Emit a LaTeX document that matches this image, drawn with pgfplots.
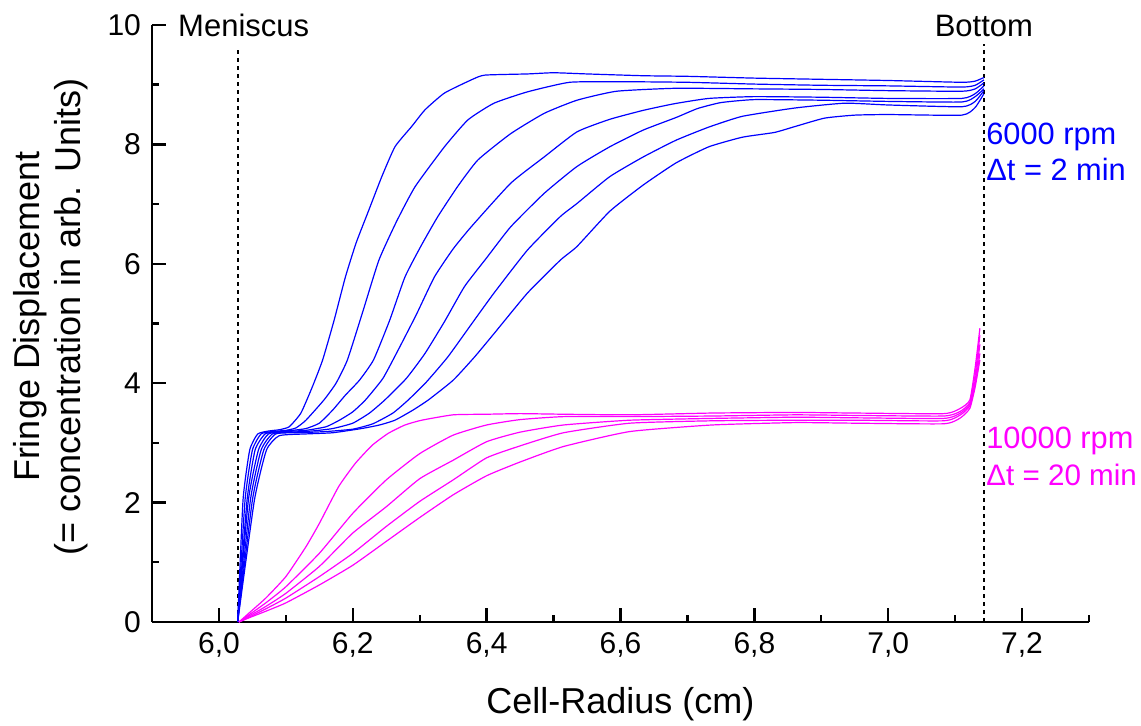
\documentclass[border=0pt]{standalone}
\usepackage{fontspec}
\setmainfont{Liberation Sans}
\usepackage{pgfplots}
\pgfplotsset{compat=1.18}
\definecolor{cblue}{RGB}{0,0,255}
\definecolor{cmag}{RGB}{255,0,255}
\begin{document}
\begin{tikzpicture}
\begin{axis}[
  scale only axis, width=468.5pt, height=298.5pt,
  xmin=5.9, xmax=7.3, ymin=0, ymax=10,
  axis x line*=bottom, axis y line*=left,
  axis line style={line width=1.2pt, -},
  xtick={6.0,6.2,6.4,6.6,6.8,7.0,7.2},
  minor xtick={5.9,6.1,6.3,6.5,6.7,6.9,7.1,7.3},
  ytick={0,2,4,6,8,10}, minor ytick={1,3,5,7,9},
  tick align=inside,
  major tick length=7pt, minor tick length=3.5pt,
  every tick/.style={black, line width=1.2pt},
  tick label style={font=\fontsize{15}{18}\selectfont},
  xticklabel style={yshift=-1.5pt, /pgf/number format/.cd, fixed, fixed zerofill, precision=1, use comma, assume math mode=true},
  yticklabel style={xshift=-2pt, /pgf/number format/.cd, fixed, precision=0, assume math mode=true},
  xlabel={Cell-Radius (cm)},
  ylabel={Fringe Displacement\\(= concentration in arb. Units)},
  label style={font=\fontsize{18}{20.5}\selectfont},
  xlabel style={at={(axis description cs:0.5,-0.1541)}, anchor=base},
  ylabel style={at={(axis description cs:-0.0683,0.511)}, anchor=south, align=center, inner sep=0pt},
  clip=false,
  every axis plot/.append style={line width=0.6pt},
  data/.style={smooth, tension=0.3},
]
% dotted reference lines
\addplot[black, line width=1pt, dash pattern=on 2pt off 2pt] coordinates {(6.028,0) (6.028,9.63)};
\addplot[black, line width=1pt, dash pattern=on 2pt off 2pt] coordinates {(7.143,0) (7.143,9.68)};
% 6000 rpm (blue)
\addplot[cblue, data] coordinates {(6.028,0) (6.036,2.04) (6.046,2.88) (6.058,3.15) (6.075,3.20) (6.09,3.22) (6.105,3.27) (6.1225,3.50) (6.14,3.95) (6.155,4.39) (6.172,5.05) (6.189,5.78) (6.205,6.35) (6.224,6.90) (6.243,7.45) (6.263,7.96) (6.288,8.30) (6.308,8.58) (6.337,8.86) (6.377,9.08) (6.397,9.16) (6.461,9.18) (6.5,9.20) (6.55,9.18) (6.634,9.15) (6.7,9.14) (6.8,9.11) (6.9,9.09) (7.0,9.07) (7.11,9.04) (7.13,9.06) (7.143,9.12)};
\addplot[cblue, data] coordinates {(6.028,0) (6.039,2.04) (6.050,2.88) (6.063,3.15) (6.08,3.19) (6.10,3.21) (6.115,3.25) (6.13,3.38) (6.157,3.72) (6.175,4.0) (6.192,4.39) (6.215,5.2) (6.239,6.06) (6.265,6.7) (6.293,7.29) (6.337,7.96) (6.372,8.41) (6.411,8.69) (6.461,8.88) (6.524,9.04) (6.6,9.05) (6.7,9.04) (6.8,9.01) (6.9,8.99) (7.0,8.98) (7.11,8.96) (7.13,8.99) (7.143,9.08)};
\addplot[cblue, data] coordinates {(6.028,0) (6.042,2.04) (6.054,2.88) (6.069,3.15) (6.09,3.19) (6.11,3.21) (6.13,3.24) (6.15,3.33) (6.17,3.55) (6.189,3.80) (6.21,4.05) (6.231,4.39) (6.255,5.05) (6.278,5.78) (6.302,6.3) (6.327,6.79) (6.357,7.3) (6.387,7.74) (6.436,8.18) (6.486,8.52) (6.535,8.74) (6.594,8.89) (6.683,8.94) (6.8,8.93) (6.9,8.92) (7.0,8.90) (7.11,8.89) (7.13,8.93) (7.143,9.03)};
\addplot[cblue, data] coordinates {(6.028,0) (6.044,2.04) (6.059,2.88) (6.074,3.15) (6.10,3.19) (6.13,3.21) (6.16,3.27) (6.18,3.38) (6.2,3.52) (6.219,3.72) (6.245,4.08) (6.268,4.56) (6.295,5.15) (6.322,5.78) (6.35,6.25) (6.377,6.62) (6.436,7.35) (6.486,7.79) (6.535,8.21) (6.584,8.42) (6.634,8.57) (6.68,8.68) (6.732,8.77) (6.8,8.80) (6.9,8.79) (7.0,8.77) (7.11,8.77) (7.13,8.85) (7.143,8.98)};
\addplot[cblue, data] coordinates {(6.028,0) (6.047,2.04) (6.063,2.88) (6.080,3.15) (6.11,3.18) (6.14,3.20) (6.17,3.24) (6.2,3.33) (6.225,3.5) (6.248,3.72) (6.28,4.08) (6.308,4.50) (6.338,5.05) (6.367,5.62) (6.4,6.1) (6.436,6.62) (6.486,7.18) (6.535,7.63) (6.584,7.96) (6.634,8.24) (6.683,8.45) (6.715,8.6) (6.75,8.70) (6.8,8.75) (6.9,8.74) (7.0,8.72) (7.11,8.71) (7.13,8.8) (7.143,8.93)};
\addplot[cblue, data] coordinates {(6.028,0) (6.050,2.04) (6.067,2.88) (6.085,3.15) (6.12,3.17) (6.16,3.19) (6.2,3.23) (6.23,3.32) (6.26,3.5) (6.283,3.72) (6.31,4.02) (6.342,4.44) (6.378,5.0) (6.411,5.51) (6.461,6.23) (6.51,6.79) (6.535,7.01) (6.584,7.46) (6.634,7.79) (6.683,8.07) (6.732,8.29) (6.782,8.47) (6.861,8.61) (6.935,8.69) (7.0,8.66) (7.11,8.63) (7.13,8.72) (7.143,8.90)};
\addplot[cblue, data] coordinates {(6.028,0) (6.053,2.04) (6.071,2.88) (6.09,3.12) (6.13,3.15) (6.17,3.17) (6.213,3.24) (6.24,3.3) (6.263,3.38) (6.29,3.55) (6.313,3.72) (6.35,4.05) (6.382,4.44) (6.411,4.83) (6.461,5.51) (6.51,6.06) (6.535,6.29) (6.584,6.88) (6.634,7.32) (6.683,7.69) (6.732,7.96) (6.782,8.12) (6.83,8.2) (6.861,8.30) (6.905,8.44) (6.95,8.49) (7.0,8.50) (7.11,8.49) (7.13,8.62) (7.143,8.85)};
% 10000 rpm (magenta)
\addplot[cmag, data] coordinates {(6.03,0) (6.045,0.15) (6.07,0.4) (6.1,0.76) (6.13,1.26) (6.15,1.65) (6.179,2.27) (6.204,2.66) (6.229,2.96) (6.253,3.16) (6.278,3.30) (6.303,3.38) (6.35,3.47) (6.40,3.48) (6.45,3.49) (6.515,3.48) (6.614,3.47) (6.737,3.50) (6.861,3.51) (6.95,3.50) (7.083,3.49) (7.108,3.58) (7.122,3.72) (7.13,4.27) (7.137,4.92)};
\addplot[cmag, data] coordinates {(6.03,0) (6.045,0.12) (6.07,0.32) (6.1,0.59) (6.15,1.15) (6.2,1.82) (6.25,2.38) (6.3,2.82) (6.35,3.13) (6.40,3.30) (6.45,3.39) (6.515,3.44) (6.614,3.44) (6.737,3.45) (6.861,3.47) (6.95,3.46) (7.083,3.45) (7.108,3.53) (7.122,3.68) (7.13,4.15) (7.137,4.8)};
\addplot[cmag, data] coordinates {(6.03,0) (6.045,0.1) (6.07,0.26) (6.1,0.48) (6.15,0.93) (6.2,1.49) (6.25,1.93) (6.3,2.40) (6.35,2.71) (6.40,3.02) (6.45,3.18) (6.515,3.30) (6.614,3.38) (6.737,3.41) (6.861,3.43) (6.95,3.42) (7.083,3.41) (7.108,3.5) (7.122,3.65) (7.13,4.05) (7.137,4.65)};
\addplot[cmag, data] coordinates {(6.03,0) (6.045,0.08) (6.07,0.22) (6.1,0.40) (6.15,0.76) (6.2,1.15) (6.25,1.60) (6.3,2.02) (6.35,2.38) (6.40,2.75) (6.45,2.95) (6.515,3.17) (6.614,3.33) (6.737,3.37) (6.861,3.38) (6.95,3.38) (7.083,3.37) (7.108,3.47) (7.122,3.62) (7.13,3.98) (7.137,4.5)};
\addplot[cmag, data] coordinates {(6.03,0) (6.045,0.07) (6.07,0.18) (6.1,0.32) (6.15,0.62) (6.2,0.95) (6.25,1.35) (6.3,1.75) (6.35,2.13) (6.40,2.45) (6.45,2.68) (6.515,2.94) (6.614,3.19) (6.737,3.30) (6.861,3.34) (6.95,3.33) (7.083,3.32) (7.108,3.42) (7.122,3.58) (7.13,3.94) (7.137,4.39)};
% annotations
\node[anchor=base, inner sep=0pt, font=\fontsize{15.5}{18}\selectfont] at (axis cs:6.037,9.80) {Meniscus};
\node[anchor=base, inner sep=0pt, font=\fontsize{15.5}{18}\selectfont] at (axis cs:7.143,9.80) {Bottom};
\node[anchor=base west, inner sep=0pt, text=cblue, font=\fontsize{15.4}{18}\selectfont] at (axis cs:7.146,8.0) {6000 rpm};
\node[anchor=base west, inner sep=0pt, text=cblue, font=\fontsize{15.4}{18}\selectfont] at (axis cs:7.146,7.40) {Δt = 2 min};
\node[anchor=base west, inner sep=0pt, text=cmag, font=\fontsize{15.4}{18}\selectfont] at (axis cs:7.146,2.91) {10000 rpm};
\node[anchor=base west, inner sep=0pt, text=cmag, font=\fontsize{14.8}{18}\selectfont] at (axis cs:7.146,2.29) {Δt = 20 min};
\end{axis}
\pgfresetboundingbox
\path (-76pt,-52pt) rectangle (494.5pt,311pt);
\end{tikzpicture}
\end{document}
